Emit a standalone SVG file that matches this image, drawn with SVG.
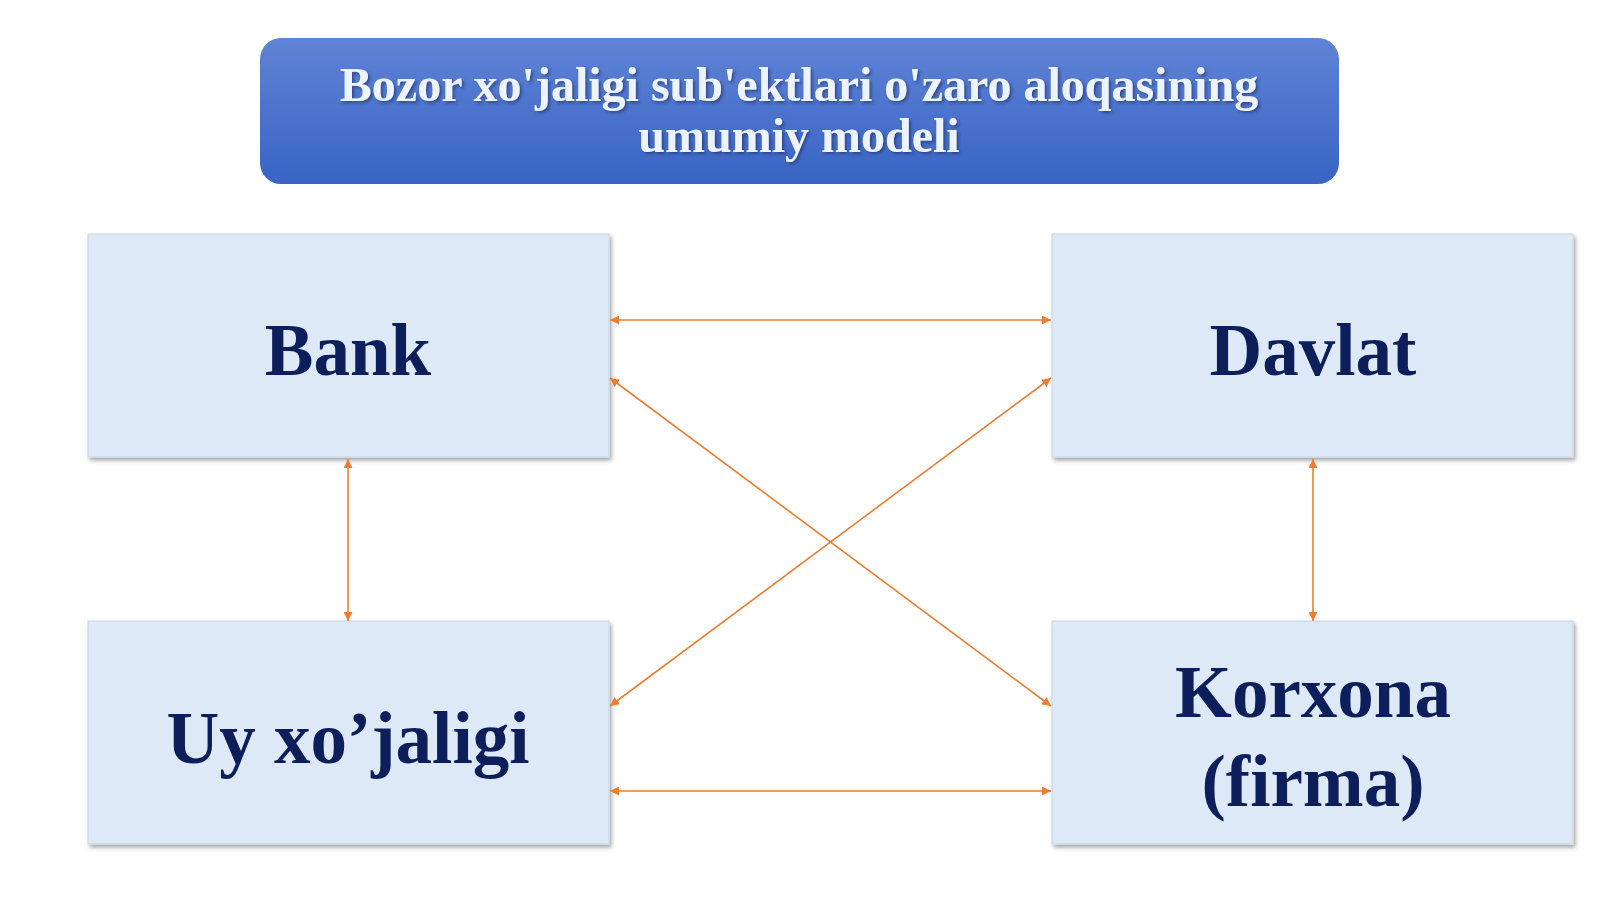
<svg xmlns="http://www.w3.org/2000/svg" width="1600" height="899" viewBox="0 0 1600 899">
<defs>
<linearGradient id="tg" x1="0" y1="0" x2="0" y2="1">
<stop offset="0" stop-color="#5f83d6"/>
<stop offset="1" stop-color="#3964c4"/>
</linearGradient>
<filter id="sh" x="-5%" y="-5%" width="115%" height="120%">
<feDropShadow dx="2" dy="3" stdDeviation="2" flood-color="#000" flood-opacity="0.35"/>
</filter>
<filter id="ts" x="-5%" y="-20%" width="110%" height="150%">
<feDropShadow dx="2" dy="2" stdDeviation="1.5" flood-color="#1a2a60" flood-opacity="0.6"/>
</filter>
<marker id="ah" viewBox="0 0 10 10" refX="10" refY="5" markerWidth="9" markerHeight="9" markerUnits="userSpaceOnUse" orient="auto-start-reverse">
<path d="M0,0 L10,5 L0,10 z" fill="#ed7d31"/>
</marker>
<style>
.box{fill:#dde9f6;stroke:#c9d6e6;stroke-width:1;filter:url(#sh)}
.lbl{font-family:"Liberation Serif","Times New Roman",serif;font-weight:bold;font-size:73px;fill:#0c1f5a;text-anchor:middle}
.ttl{font-family:"Liberation Serif","Times New Roman",serif;font-weight:bold;font-size:48px;fill:#eef4ff;text-anchor:middle;filter:url(#ts)}
.con{stroke:#ed7d31;stroke-width:1.6;fill:none;marker-start:url(#ah);marker-end:url(#ah)}
</style>
</defs>
<rect width="1600" height="899" fill="#ffffff"/>
<g id="title">
<rect x="260" y="38" width="1079" height="146" rx="21" fill="url(#tg)"/>
<text class="ttl" x="799" y="101">Bozor xo'jaligi sub'ektlari o'zaro aloqasining</text>
<text class="ttl" x="799" y="152">umumiy modeli</text>
</g>
<g id="bank">
<rect class="box" x="88" y="234" width="521" height="223"/>
<text class="lbl" x="348" y="375">Bank</text>
</g>
<g id="davlat">
<rect class="box" x="1052" y="234" width="521" height="223"/>
<text class="lbl" x="1313" y="375">Davlat</text>
</g>
<g id="uy">
<rect class="box" x="88" y="621" width="521" height="223"/>
<text class="lbl" x="348" y="763">Uy xo’jaligi</text>
</g>
<g id="korxona">
<rect class="box" x="1052" y="621" width="521" height="223"/>
<text class="lbl" x="1313" y="717">Korxona</text>
<text class="lbl" x="1313" y="806">(firma)</text>
</g>
<g id="connectors">
<line class="con" x1="610" y1="320" x2="1051" y2="320"/>
<line class="con" x1="610" y1="378" x2="1051" y2="706"/>
<line class="con" x1="610" y1="706" x2="1051" y2="378"/>
<line class="con" x1="610" y1="791" x2="1051" y2="791"/>
<line class="con" x1="348" y1="459" x2="348" y2="621"/>
<line class="con" x1="1313" y1="459" x2="1313" y2="621"/>
</g>
</svg>
